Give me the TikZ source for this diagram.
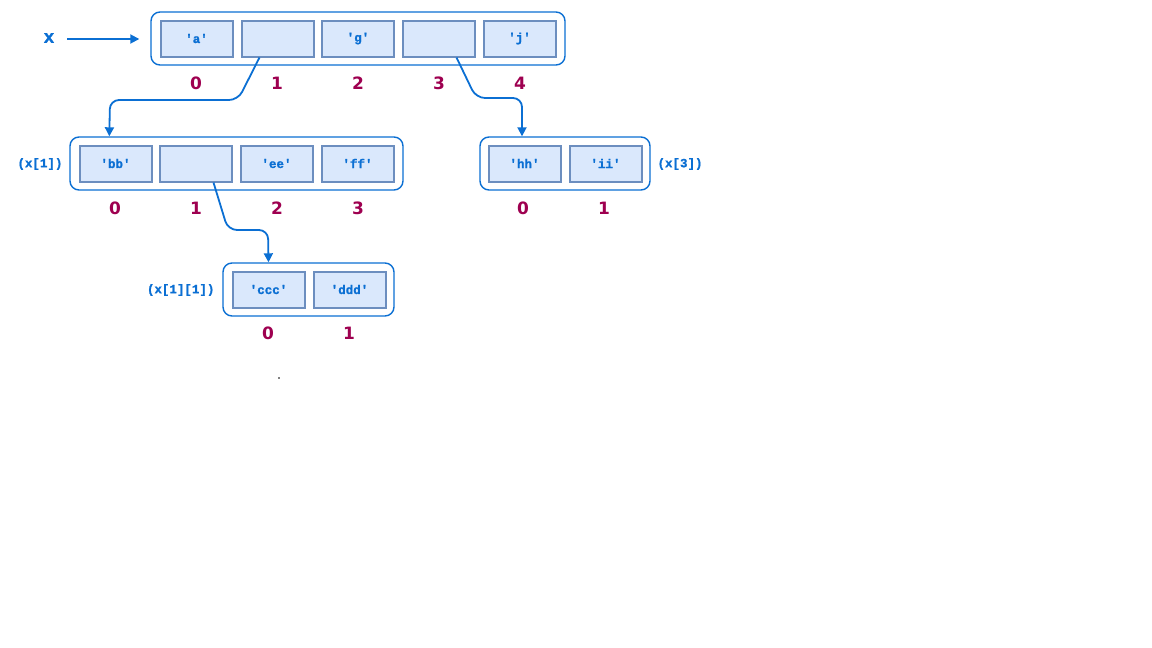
\documentclass[tikz,border=0pt]{standalone}
\usepackage{fontspec}
\setmainfont{DejaVu Sans}
\newfontfamily\codefont{Liberation Mono}[BoldFont={Liberation Mono Bold}, BoldFeatures={FakeBold=1.2}]
\newfontfamily\idxfont{DejaVu Sans}
\usetikzlibrary{calc,arrows.meta}
\definecolor{cellfill}{HTML}{DAE8FC}
\definecolor{celldraw}{HTML}{6C8EBF}
\definecolor{linkblue}{HTML}{0B6FD3}
\definecolor{idxcol}{HTML}{9E0050}
\tikzset{
  cell/.style={draw=celldraw, fill=cellfill, line width=2pt, minimum width=72pt,
    minimum height=36pt, inner sep=0pt, font=\fontsize{12.5}{14}\selectfont\codefont\bfseries,
    text=linkblue},
  frame/.style={draw=linkblue, line width=1.4pt, rounded corners=9pt, inner sep=0pt},
  idx/.style={font=\fontsize{17}{20}\selectfont\idxfont\bfseries, text=idxcol},
  tag/.style={font=\fontsize{12.5}{14}\selectfont\codefont\bfseries, text=linkblue},
  link/.style={draw=linkblue, line width=1.8pt, rounded corners=9pt,
    -{Triangle[length=9pt,width=9pt]}}
}
\begin{document}
\begin{tikzpicture}[x=1pt,y=-1pt]
\useasboundingbox (0,0) rectangle (1152,648);

% top-level list x
\node[frame, minimum width=414pt, minimum height=53pt] (T) at (358,38.5) {};
\node[cell] (t0) at (196.5,38.5) {'a'};
\node[cell] (t1) at (277.5,38.5) {};
\node[cell] (t2) at (358,38.5) {'g'};
\node[cell] (t3) at (438.5,38.5) {};
\node[cell] (t4) at (519.5,38.5) {'j'};
\node[idx] (ti0) at (196,83) {0};
\node[idx] (ti1) at (277,83) {1};
\node[idx] (ti2) at (358,83) {2};
\node[idx] (ti3) at (439,83) {3};
\node[idx] (ti4) at (520,83) {4};
\node[font=\fontsize{18}{22}\selectfont\codefont\bfseries, text=linkblue] (xname) at (49,38) {x};
\coordinate (xarr) at (67,39);
\draw[link] (xarr) -- ($(T.west |- xarr)+(-11,0)$);

% x[1]
\node[frame, minimum width=333pt, minimum height=53pt] (L) at (236.5,163.5) {};
\node[cell] (l0) at (115.5,163.5) {'bb'};
\node[cell] (l1) at (195.5,163.5) {};
\node[cell] (l2) at (276.5,163.5) {'ee'};
\node[cell] (l3) at (357.5,163.5) {'ff'};
\node[idx] (li0) at (115,208) {0};
\node[idx] (li1) at (196,208) {1};
\node[idx] (li2) at (277,208) {2};
\node[idx] (li3) at (358,208) {3};
\node[tag, anchor=east] (lname) at (66,164) {(x[1])};

% x[3]
\node[frame, minimum width=170pt, minimum height=53pt] (R) at (565,163.5) {};
\node[cell] (r0) at (524.5,163.5) {'hh'};
\node[cell] (r1) at (605.5,163.5) {'ii'};
\node[idx] (ri0) at (523,208) {0};
\node[idx] (ri1) at (604,208) {1};
\node[tag, anchor=west] (rname) at (654,164) {(x[3])};

% x[1][1]
\node[frame, minimum width=171pt, minimum height=53pt] (B) at (308.5,289.5) {};
\node[cell] (b0) at (268.5,289.5) {'ccc'};
\node[cell] (b1) at (349.5,289.5) {'ddd'};
\node[idx] (bi0) at (268,333) {0};
\node[idx] (bi1) at (349,333) {1};
\node[tag, anchor=east] (bname) at (218,290) {(x[1][1])};

% references between lists
\draw[link] ($(t1.south)+(-18,0)$) -- (238,100) -- (110,100) -- ($(L.north west)+(40,0)$);
\draw[link] ($(t3.south)+(18,0)$) -- (476,98) -- (522,98) -- (R.north -| 522,0);
\draw[link] ($(l1.south)+(18,0)$) -- (228,230) -- (268,230) -- (B.north -| b0);

\fill[black] (279,378) circle (0.8pt);
\end{tikzpicture}
\end{document}
